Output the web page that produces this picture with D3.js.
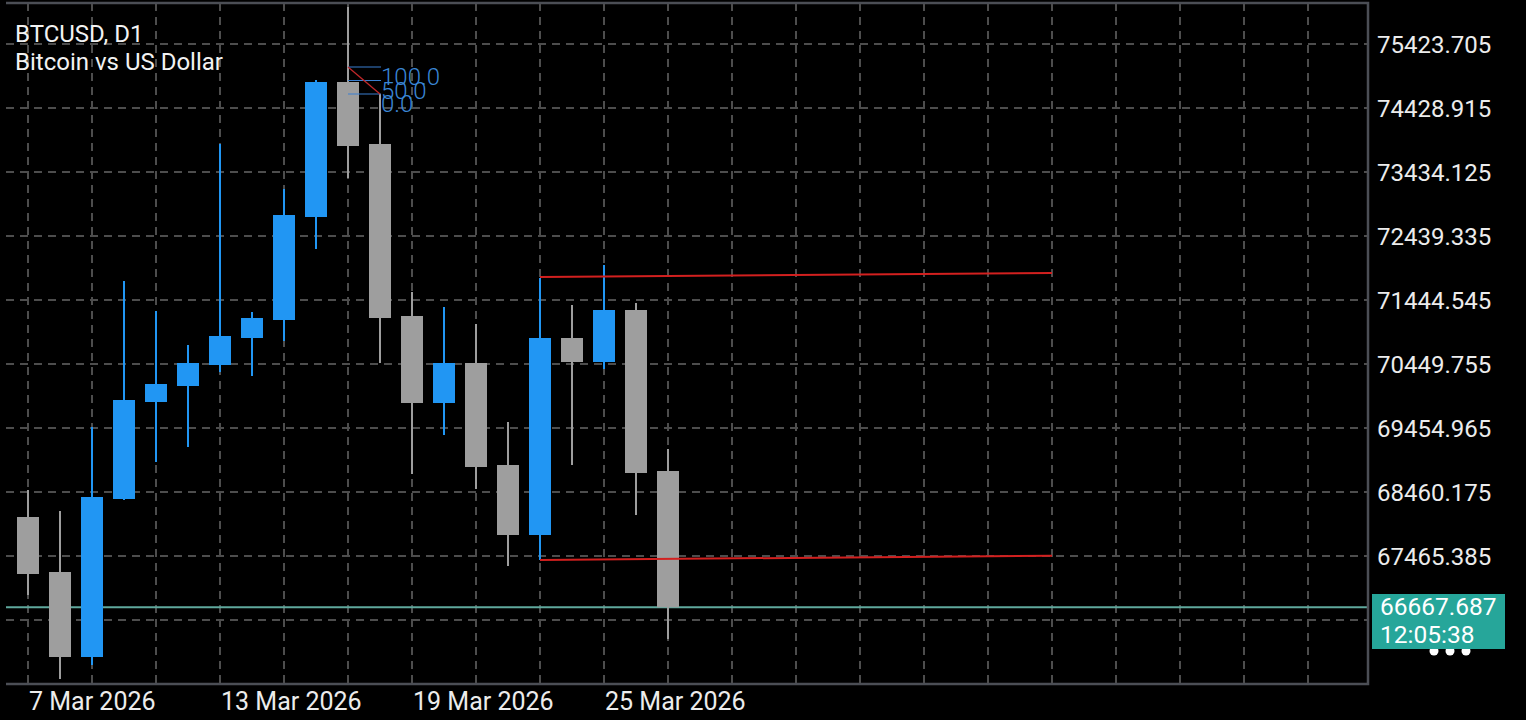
<!DOCTYPE html>
<html>
<head>
<meta charset="utf-8">
<script src="https://cdn.jsdelivr.net/npm/d3@7"></script>
<style>
  html, body { margin: 0; padding: 0; background: #000; }
  svg { display: block; font-family: Roboto, "Noto Sans", sans-serif; }
</style>
</head>
<body>
<div id="chart"></div>
<script>
// Daily candles, BTCUSD
var dates = ["2026-03-07", "2026-03-08", "2026-03-09", "2026-03-10", "2026-03-11", "2026-03-12",
    "2026-03-13", "2026-03-14", "2026-03-15", "2026-03-16", "2026-03-17", "2026-03-18",
    "2026-03-19", "2026-03-20", "2026-03-21", "2026-03-22", "2026-03-23", "2026-03-24",
    "2026-03-25", "2026-03-26", "2026-03-27"];
var opens = [68071.6, 67216.7, 65895.5, 68351.4, 69859.1, 70107.8, 70434.2, 70853.9, 71133.7, 72734.7,
    74833.0, 73869.3, 71195.8, 69843.5, 70465.3, 68879.8, 67791.8, 70853.9, 70480.8, 71289.1, 68786.6];
var highs = [68491.3, 68164.8, 69470.5, 71739.9, 71273.6, 70745.1, 73869.3, 71258.0, 73169.9, 74864.1,
    75998.8, 74646.5, 71568.9, 71335.7, 71071.5, 69548.2, 71786.5, 71366.8, 71988.6, 71397.9, 69128.5];
var lows = [66859.2, 65553.5, 65771.1, 68335.8, 68926.5, 69159.6, 70325.4, 70263.2, 70807.3, 72237.3,
    73340.9, 70465.3, 68740.0, 69346.2, 68506.8, 67309.9, 67403.2, 68879.8, 70372.0, 68102.7, 66175.3];
var closes = [67185.6, 65895.5, 68382.4, 69890.2, 70138.9, 70465.3, 70885.0, 71164.8, 72765.7, 74833.0,
    73838.3, 71164.8, 69843.5, 70465.3, 68848.8, 67791.8, 70853.9, 70480.8, 71289.1, 68755.5, 66667.687];

var priceTicks = [75423.705, 74428.915, 73434.125, 72439.335, 71444.545, 70449.755,
    69454.965, 68460.175, 67465.385, 66470.595];
var dateLabels = ["2026-03-07", "2026-03-13", "2026-03-19", "2026-03-25"];

// objects drawn on the chart
var trendUpper = [["2026-03-23", 71802.0], ["2026-04-08", 71864.2]];
var trendLower = [["2026-03-23", 67403.2], ["2026-04-08", 67470.0]];
var fibPoints = [["2026-03-17", 75066.2], ["2026-03-18", 74646.5]];
var fibLevels = [100, 50, 0];

var lastPrice = 66667.687;
var timer = "12:05:38";

function startChart() {
    const width = 1526, height = 720;
    const left = 6, right = 1368, top = 3, bottom = 684;

    const parse = d3.utcParse("%Y-%m-%d");
    const fmt = d3.utcFormat("%-d %b %Y");

    const candles = dates.map((d, i) => ({
        date: parse(d), open: opens[i], high: highs[i], low: lows[i], close: closes[i]
    }));

    const svg = d3.select("#chart").append("svg")
        .attr("width", width)
        .attr("height", height);

    // one day = 32px, 7 Mar sits on x = 28
    const x = d3.scaleUtc()
        .domain([parse("2026-03-07"), parse("2026-03-08")])
        .range([28, 60]);
    const y = d3.scaleLinear()
        .domain([66470.595, 75423.705])
        .range([620, 44]);

    svg.append("defs").append("clipPath").attr("id", "plot")
        .append("rect").attr("x", left).attr("y", top)
        .attr("width", right - left).attr("height", bottom - top);

    const plot = svg.append("g").attr("clip-path", "url(#plot)");

    // grid, a vertical line every 2 days
    const gridDates = d3.range(0, 41, 2).map(k => d3.utcDay.offset(parse("2026-03-07"), k));
    plot.append("g").selectAll("line")
        .data(gridDates)
        .enter().append("line")
        .attr("x1", d => x(d)).attr("x2", d => x(d))
        .attr("y1", top).attr("y2", bottom)
        .attr("stroke", "#4d4d4d")
        .attr("stroke-width", 2)
        .attr("stroke-dasharray", "8,6");
    plot.append("g").selectAll("line")
        .data(priceTicks)
        .enter().append("line")
        .attr("x1", left).attr("x2", right)
        .attr("y1", d => y(d)).attr("y2", d => y(d))
        .attr("stroke", "#4d4d4d")
        .attr("stroke-width", 2)
        .attr("stroke-dasharray", "8,6");

    // current price line
    plot.append("line")
        .attr("x1", left).attr("x2", right)
        .attr("y1", y(lastPrice)).attr("y2", y(lastPrice))
        .attr("stroke", "#5fa89d")
        .attr("stroke-width", 2);

    // candles
    const bull = "#2196f3", bear = "#9e9e9e";
    const colour = d => d.close >= d.open ? bull : bear;
    const cg = plot.append("g").selectAll("g")
        .data(candles)
        .enter().append("g");
    cg.append("line")
        .attr("x1", d => x(d.date)).attr("x2", d => x(d.date))
        .attr("y1", d => y(d.high)).attr("y2", d => y(d.low))
        .attr("stroke", colour)
        .attr("stroke-width", 2);
    cg.append("rect")
        .attr("x", d => x(d.date) - 11)
        .attr("width", 22)
        .attr("y", d => y(Math.max(d.open, d.close)))
        .attr("height", d => Math.max(1, y(Math.min(d.open, d.close)) - y(Math.max(d.open, d.close))))
        .attr("fill", colour);

    // trend lines
    const line = d3.line().x(d => x(parse(d[0]))).y(d => y(d[1]));
    [trendUpper, trendLower].forEach(t => {
        plot.append("path")
            .attr("d", line(t))
            .attr("fill", "none")
            .attr("stroke", "#d3201f")
            .attr("stroke-width", 2);
    });

    // fibonacci
    const f0 = fibPoints[0], f1 = fibPoints[1];
    const fx0 = x(parse(f0[0])), fx1 = x(parse(f1[0])) + 1;
    const level = d => y(f1[1] + (f0[1] - f1[1]) * d / 100);
    const fibG = plot.append("g");
    fibG.selectAll("line")
        .data(fibLevels)
        .enter().append("line")
        .attr("x1", fx0).attr("x2", fx1)
        .attr("y1", level).attr("y2", level)
        .attr("stroke", "#3a7fd0")
        .attr("stroke-width", 1);
    fibG.append("path")
        .attr("d", line(fibPoints))
        .attr("stroke", "#c0282a")
        .attr("stroke-width", 1.3);
    fibG.selectAll("text")
        .data(fibLevels)
        .enter().append("text")
        .attr("x", fx1)
        .attr("y", d => level(d) + 18)
        .attr("fill", "#3a86d6")
        .attr("font-size", 24)
        .attr("font-weight", 300)
        .text(d => d.toFixed(1));

    // frame
    svg.append("path")
        .attr("d", `M${left},${top}H${right}V${bottom}H${left}`)
        .attr("fill", "none")
        .attr("stroke", "#4b4e55")
        .attr("stroke-width", 2.5);

    // price axis (the label under the price box is hidden by it)
    svg.append("g").selectAll("text")
        .data(priceTicks.filter(d => y(d) < 590))
        .enter().append("text")
        .attr("x", 1377)
        .attr("y", d => y(d) + 8.5)
        .attr("fill", "#ececec")
        .attr("font-size", 24)
        .text(d => d.toFixed(3));

    // date axis
    svg.append("g").selectAll("text")
        .data(dateLabels)
        .enter().append("text")
        .attr("x", d => x(parse(d)) + 1)
        .attr("y", 710)
        .attr("fill", "#ececec")
        .attr("font-size", 25)
        .text(d => fmt(parse(d)));

    // current price box
    [1434, 1450, 1466].forEach(cx => {
        svg.append("circle").attr("cx", cx).attr("cy", 651).attr("r", 4.5).attr("fill", "#fff");
    });
    svg.append("rect")
        .attr("x", 1372).attr("y", 594)
        .attr("width", 133).attr("height", 55)
        .attr("fill", "#26a69a");
    svg.append("text")
        .attr("x", 1380).attr("y", 615)
        .attr("fill", "#fff").attr("font-size", 24.5)
        .text(lastPrice.toFixed(3));
    svg.append("text")
        .attr("x", 1380).attr("y", 643)
        .attr("fill", "#fff").attr("font-size", 24.5)
        .text(timer);

    // title
    svg.append("text")
        .attr("x", 15).attr("y", 42)
        .attr("fill", "#f2f2f2").attr("font-size", 24)
        .text("BTCUSD, D1");
    svg.append("text")
        .attr("x", 15).attr("y", 70)
        .attr("fill", "#f2f2f2").attr("font-size", 24)
        .text("Bitcoin vs US Dollar");
}

startChart();
</script>
</body>
</html>
